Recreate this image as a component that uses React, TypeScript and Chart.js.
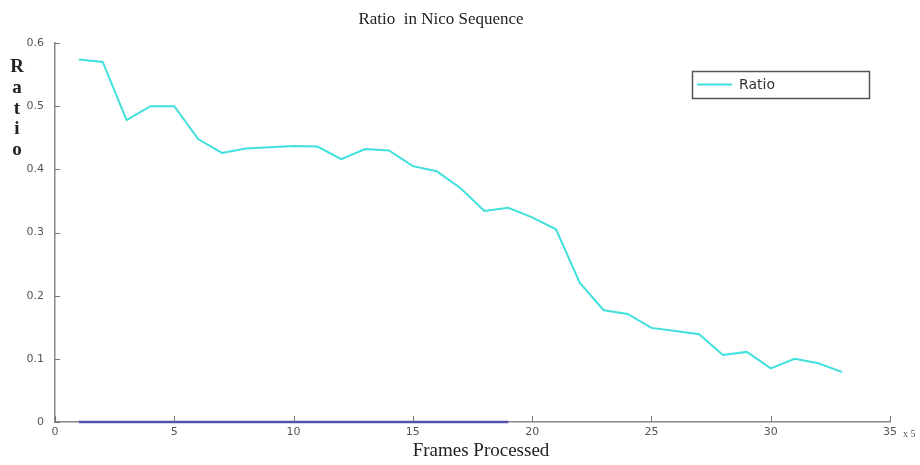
import React, { useEffect, useRef } from "react";
import { Chart, registerables } from "chart.js";

Chart.register(...registerables);

const frames = [1, 2, 3, 4, 5, 6, 7, 8, 9, 10, 11, 12, 13, 14, 15, 16, 17, 18, 19, 20, 21, 22, 23, 24, 25, 26, 27, 28, 29, 30, 31, 32, 33];
const ratio = [0.574, 0.57, 0.478, 0.5, 0.5, 0.448, 0.426, 0.433, 0.435, 0.437, 0.436, 0.416, 0.432, 0.43, 0.405, 0.397, 0.37, 0.334, 0.339, 0.324, 0.305, 0.22, 0.177, 0.171, 0.149, 0.144, 0.139, 0.106, 0.111, 0.085, 0.1, 0.093, 0.079];
const baseFrames = [1, 2, 3, 4, 5, 6, 7, 8, 9, 10, 11, 12, 13, 14, 15, 16, 17, 18, 19];
const baseValues = [0, 0, 0, 0, 0, 0, 0, 0, 0, 0, 0, 0, 0, 0, 0, 0, 0, 0, 0];
const xTicks = [0, 5, 10, 15, 20, 25, 30, 35];
const yTicks = [0, 0.1, 0.2, 0.3, 0.4, 0.5, 0.6];

const titleText = "Ratio  in Nico Sequence";
const xTitle = "Frames Processed";
const yTitleLetters = ["R", "a", "t", "i", "o"];
const xMultiplier = "x 5";
const legendLabel = "Ratio";

const CYAN = "rgb(64,224,222)";
const BLUE = "rgb(84,84,176)";

const decorPlugin = {
  id: "decor",
  afterDraw(chart: any) {
    const ctx = chart.ctx;
    const xs = chart.scales.x;
    const ys = chart.scales.y;
    const area = chart.chartArea;
    ctx.save();
    // inner ticks
    ctx.strokeStyle = "#777";
    ctx.lineWidth = 1;
    for (const t of xTicks) {
      const px = Math.round(xs.getPixelForValue(t)) + 0.5;
      ctx.beginPath();
      ctx.moveTo(px, area.bottom);
      ctx.lineTo(px, area.bottom - 6);
      ctx.stroke();
    }
    for (const t of yTicks) {
      const py = Math.round(ys.getPixelForValue(t)) + 0.5;
      ctx.beginPath();
      ctx.moveTo(area.left, py);
      ctx.lineTo(area.left + 5, py);
      ctx.stroke();
    }
    // title
    ctx.fillStyle = "#222";
    ctx.font = "17px 'Liberation Serif', serif";
    ctx.textAlign = "center";
    ctx.textBaseline = "middle";
    ctx.fillText(titleText, 441, 20);
    // x title
    ctx.font = "19px 'Liberation Serif', serif";
    ctx.fillText(xTitle, 481, 451);
    // y title stacked
    ctx.font = "bold 19px 'Liberation Serif', serif";
    const ly = [67, 88, 109, 129, 150];
    yTitleLetters.forEach((l, i) => ctx.fillText(l, 17, ly[i]));
    // multiplier
    ctx.font = "10px 'Liberation Serif', serif";
    ctx.fillStyle = "#555";
    ctx.textAlign = "left";
    ctx.fillText(xMultiplier, 903, 434);
    // legend
    ctx.strokeStyle = "#555";
    ctx.lineWidth = 1.5;
    ctx.strokeRect(692.5, 71.5, 177, 27);
    ctx.strokeStyle = CYAN;
    ctx.lineWidth = 2;
    ctx.beginPath();
    ctx.moveTo(697, 84.5);
    ctx.lineTo(732, 84.5);
    ctx.stroke();
    ctx.fillStyle = "#333";
    ctx.font = "14px 'DejaVu Sans', sans-serif";
    ctx.textAlign = "left";
    ctx.fillText(legendLabel, 739, 85);
    ctx.restore();
  },
};

export default function App() {
  const ref = useRef<HTMLCanvasElement | null>(null);
  useEffect(() => {
    if (!ref.current) return;
    const chart = new Chart(ref.current, {
      type: "line",
      data: {
        datasets: [
          {
            label: legendLabel,
            data: frames.map((f, i) => ({ x: f, y: ratio[i] })),
            borderColor: CYAN,
            borderWidth: 2,
            pointRadius: 0,
            tension: 0,
            clip: false,
          },
          {
            label: "baseline",
            data: baseFrames.map((f, i) => ({ x: f, y: baseValues[i] })),
            borderColor: BLUE,
            borderWidth: 2.5,
            pointRadius: 0,
            tension: 0,
            clip: false,
          },
        ],
      },
      options: {
        animation: false,
        responsive: false,
        maintainAspectRatio: false,
        layout: { padding: { left: 0, top: 43, right: 30, bottom: 0 } },
        plugins: { legend: { display: false }, title: { display: false }, tooltip: { enabled: false } },
        scales: {
          x: {
            type: "linear",
            min: 0,
            max: 35,
            afterFit: (s: any) => { s.height = 43; },
            afterBuildTicks: (s: any) => { s.ticks = xTicks.map((v) => ({ value: v })); },
            grid: { display: false },
            border: { display: true, color: "#888", width: 1.5 },
            ticks: { color: "#555", font: { size: 11, family: "'DejaVu Sans', sans-serif" }, padding: -4, maxRotation: 0 },
          },
          y: {
            type: "linear",
            min: 0,
            max: 0.6,
            afterFit: (s: any) => { s.width = 55; },
            afterBuildTicks: (s: any) => { s.ticks = yTicks.map((v) => ({ value: v })); },
            grid: { display: false },
            border: { display: true, color: "#888", width: 1.5 },
            ticks: {
              color: "#555",
              font: { size: 11, family: "'DejaVu Sans', sans-serif" },
              padding: 3,
              callback: (v: any) => String(Math.round(v * 10) / 10),
            },
          },
        },
      },
      plugins: [decorPlugin],
    });
    return () => chart.destroy();
  }, []);
  return (
    <div style={{ position: "fixed", left: 0, top: 0, width: 920, height: 465, background: "#fff" }}>
      <canvas ref={ref} width={920} height={465} style={{ display: "block" }} />
    </div>
  );
}
